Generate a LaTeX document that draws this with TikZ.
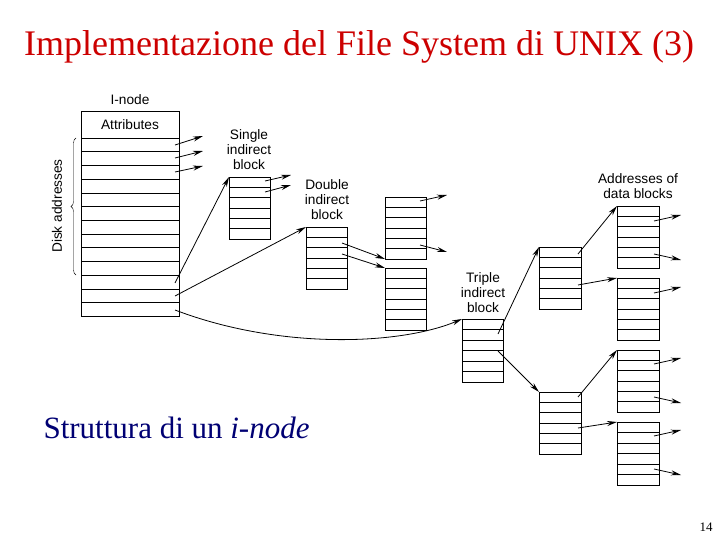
\documentclass[tikz,border=0pt]{standalone}
\usepackage{fontspec}
\setmainfont{Liberation Serif}
\setsansfont{Liberation Sans}
\usetikzlibrary{arrows.meta,decorations.pathreplacing}
\newcommand\blk[6]{% name, x, y, w, h, rows
  \node[blockbox,minimum width=#4pt,minimum height=#5pt,anchor=north west] (#1) at (#2,#3) {};
  \foreach \i in {1,...,#6}{\pgfmathsetmacro\yy{#3+#5*\i/(#6)}\ifnum\i<#6\relax\draw[thin] (#2,\yy) -- ++(#4,0);\fi}
}
\begin{document}
\begin{tikzpicture}[x=1pt,y=-1pt,
  blockbox/.style={draw,line width=0.9pt,inner sep=0,outer sep=0},
  arr/.style={-{Stealth[length=10pt,width=5pt]},line width=0.8pt},
  lbl/.style={font=\sffamily\fontsize{13.7}{15}\selectfont,align=center,inner sep=0}]
\useasboundingbox (0,0) rectangle (720,540);
\node[text=red!80!black,font=\fontsize{36}{40}\selectfont] (title) at (359,47) {Implementazione del File System di UNIX (3)};
\node[text=blue!45!black,font=\fontsize{31}{34}\selectfont,anchor=west] (cap) at (40,428) {Struttura di un \textit{i-node}};
\node[font=\fontsize{13}{15}\selectfont] (pg) at (706,527) {14};
% inode
\node[blockbox,minimum width=98pt,minimum height=205pt,anchor=north west] (inode) at (81,111) {};
\foreach \i in {0,...,12}{\draw[thin] (81,{138+\i*13.70}) -- ++(98,0);}
\node[lbl] (inl) at (130,100) {I-node};
\node[lbl] (attr) at (130,125) {Attributes};
\draw[decorate,decoration={brace,amplitude=5pt}] (76,275) -- (76,138) coordinate[midway] (bm);
\node[lbl,rotate=90] (disk) at (57,206) {Disk addresses};
% blocks
\blk{sib}{229}{177}{41}{62}{6}
\blk{dib}{306}{227}{41}{62}{6}
\blk{da}{385}{197}{41}{62}{6}
\blk{db}{385}{268}{41}{62}{6}
\blk{tib}{462}{319}{41}{63}{6}
\blk{ta}{539}{247}{42}{62}{6}
\blk{tb}{539}{392}{42}{62}{6}
\blk{d1}{617}{206}{42}{62}{6}
\blk{d2}{617}{278}{42}{62}{6}
\blk{d3}{617}{350}{42}{62}{6}
\blk{d4}{617}{422}{42}{63}{6}
\node[lbl] (sl) at (249,150) {Single\\indirect\\block};
\node[lbl] (dl) at (327,200) {Double\\indirect\\block};
\node[lbl] (tl) at (483,293) {Triple\\indirect\\block};
\node[lbl] (al) at (638,186) {Addresses of\\data blocks};
% arrows
\foreach \a/\b/\c/\d in {175/145/203/136, 175/158/203/151, 175/172/203/166,
 265/181/291/175, 265/192/291/185, 420/201/447/195, 420/245/447/252,
 654/221/681/215, 654/254/681/260, 654/293/681/287, 654/364/681/358,
 654/397/681/403, 654/436/681/430, 654/469/681/475}
  \draw[arr] (\a,\b) -- (\c,\d);
\draw[arr] (175,283) -- (sib.north west);
\draw[arr] (175,296) -- (dib.north west);
\draw[arr] (175,310) .. controls (280,350) and (400,345) .. (tib.north west);
\draw[arr] (342,243) -- (da.south west);
\draw[arr] (342,254) -- (db.north west);
\draw[arr] (498,334) -- (ta.north west);
\draw[arr] (498,351) -- (tb.north west);
\draw[arr] (578,254) -- (d1.north west);
\draw[arr] (578,285) -- (d2.north west);
\draw[arr] (578,397) -- (d3.north west);
\draw[arr] (578,428) -- (d4.north west);
\end{tikzpicture}
\end{document}
